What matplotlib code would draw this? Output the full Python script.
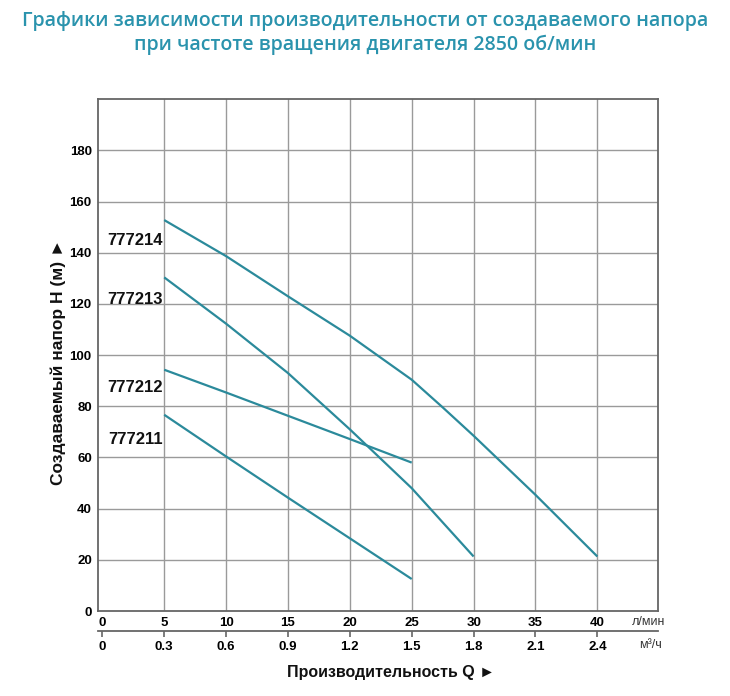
import matplotlib
matplotlib.use("Agg")
import matplotlib.pyplot as plt

# head H (m) vs. flow Q (l/min)
q_777214 = [5, 10, 15, 20, 25, 27.5, 30, 35, 40]
h_777214 = [152.8, 138.7, 123.0, 107.6, 90.4, 79.6, 68.5, 45.4, 21.3]
q_777213 = [5, 10, 15, 20, 25, 30]
h_777213 = [130.4, 112.3, 93.0, 71.0, 48.0, 21.3]
q_777212 = [5, 10, 15, 20, 25]
h_777212 = [94.3, 85.4, 76.3, 67.2, 58.0]
q_777211 = [5, 10, 15, 20, 25]
h_777211 = [76.7, 60.4, 44.3, 28.4, 12.5]

models = ["777214", "777213", "777212", "777211"]
label_h = [145, 121.7, 87.3, 67]

lpm_ticks = [0, 5, 10, 15, 20, 25, 30, 35, 40]
m3h_ticks = [0, 0.3, 0.6, 0.9, 1.2, 1.5, 1.8, 2.1, 2.4]
h_ticks = [0, 20, 40, 60, 80, 100, 120, 140, 160, 180]

teal = "#2b8a9b"
title_col = "#2a93ad"
narrow = ["Liberation Sans Narrow", "Liberation Sans", "DejaVu Sans"]
sans = ["Liberation Sans", "DejaVu Sans"]

fig = plt.figure(figsize=(7.3, 6.96), dpi=100)
ax = fig.add_axes([98 / 730, 85 / 696, 560 / 730, 511.7 / 696])

for q, h in [(q_777214, h_777214), (q_777213, h_777213),
             (q_777212, h_777212), (q_777211, h_777211)]:
    ax.plot(q, h, color=teal, lw=1.6, solid_capstyle="butt", zorder=3)

for name, y in zip(models, label_h):
    ax.text(4.9, y, name, ha="right", va="center", fontsize=12,
            fontweight="bold", family=narrow, color="#111111")

ax.set_xlim(-0.35, 44.9)
ax.set_ylim(0, 200)
ax.set_xticks(lpm_ticks)
ax.set_yticks(h_ticks)
ax.grid(True, color="#9a9a9a", lw=1)
ax.get_xgridlines()[0].set_visible(False)
ax.get_ygridlines()[0].set_visible(False)
ax.set_axisbelow(True)
for s in ax.spines.values():
    s.set_color("#666666")
    s.set_linewidth(1.3)
ax.tick_params(length=0, pad=4.5, labelsize=9.5)
for lab in ax.get_xticklabels() + ax.get_yticklabels():
    lab.set_fontweight("bold")
    lab.set_family(narrow)

# second scale in m3/h under the l/min one
sec = ax.secondary_xaxis(-20 / 511.7, functions=(lambda q: q * 0.06, lambda m: m / 0.06))
sec.set_xticks(m3h_ticks)
sec.set_xticklabels([f"{v:g}" for v in m3h_ticks])
sec.spines["bottom"].set_color("#666666")
sec.spines["bottom"].set_linewidth(1.3)
sec.tick_params(length=4, width=1.2, color="#666666", pad=3, labelsize=9.5)
for lab in sec.get_xticklabels():
    lab.set_fontweight("bold")
    lab.set_family(narrow)

fig.text(649 / 730, 1 - 622 / 696, "л/мин", ha="center", va="center",
         fontsize=9, family=narrow, color="#333333")
fig.text(651 / 730, 1 - 645 / 696, "м³/ч", ha="center", va="center",
         fontsize=9, family=narrow, color="#333333")

fig.text(58 / 730, 1 - 362 / 696, "Создаваемый напор H (м) ►", rotation=90,
         ha="center", va="center", fontsize=12.5, fontweight="bold",
         family=sans, color="#111111")
fig.text(391 / 730, 1 - 672 / 696, "Производительность Q ►", ha="center",
         va="center", fontsize=11.5, fontweight="bold", family=sans,
         color="#111111")

fig.text(0.5, 1 - 21 / 696, "Графики зависимости производительности от создаваемого напора",
         ha="center", va="center", fontsize=14, fontweight="semibold",
         family=["Open Sans", "DejaVu Sans"], color=title_col)
fig.text(0.5, 1 - 45 / 696, "при частоте вращения двигателя 2850 об/мин",
         ha="center", va="center", fontsize=14, fontweight="semibold",
         family=["Open Sans", "DejaVu Sans"], color=title_col)

fig.savefig("out.png", dpi=100)
